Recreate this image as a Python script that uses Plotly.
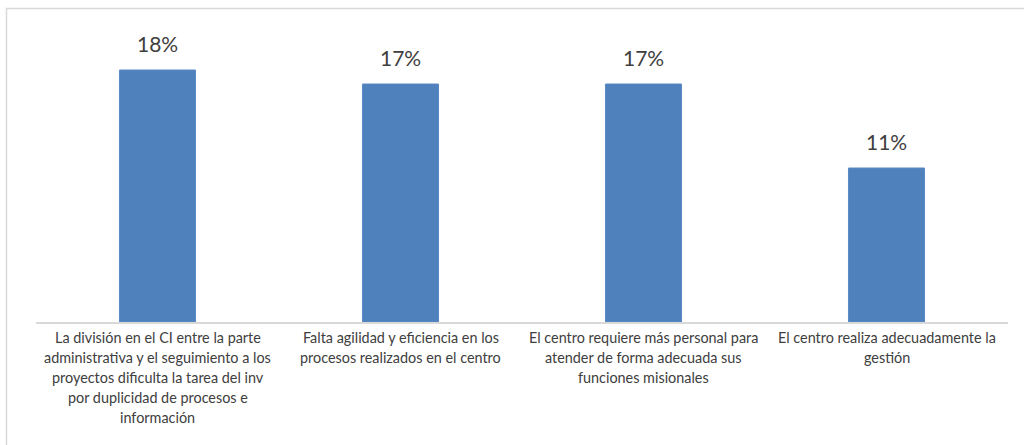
import plotly.graph_objects as go

# Survey responses and their share (%)
categories = [
    ["La división en el CI entre la parte",
     "administrativa y el seguimiento a los",
     "proyectos dificulta la tarea del inv",
     "por duplicidad de procesos e",
     "información"],
    ["Falta agilidad y eficiencia en los",
     "procesos realizados en el centro"],
    ["El centro requiere más personal para",
     "atender de forma adecuada sus",
     "funciones misionales"],
    ["El centro realiza adecuadamente la",
     "gestión"],
]
values = [18, 17, 17, 11]

keys = [" ".join(c) for c in categories]

W, H = 1024, 445
L, R, T, B = 36, 16, 42, 123
pw, ph = W - L - R, H - T - B

fig = go.Figure(go.Bar(
    x=keys, y=values,
    marker=dict(color="#4F81BD", line=dict(color="#5B8AC6", width=1)),
    hoverinfo="skip",
))

annotations = []
for k, v in zip(keys, values):
    annotations.append(dict(
        x=k, y=v, xref="x", yref="y", text=f"{v}%", showarrow=False,
        yanchor="bottom", yshift=12,
        font=dict(family="Lato, Carlito, sans-serif", size=21, color="#404040"),
    ))
for k, lines in zip(keys, categories):
    for i, line in enumerate(lines):
        annotations.append(dict(
            x=k, y=0, xref="x", yref="y", text=line, showarrow=False,
            yanchor="top", yshift=-5 - 20 * i,
            font=dict(family="Lato, Carlito, sans-serif", size=14.4, color="#404040"),
        ))

# Outer frame (top and left edges show within the view)
def px_to_paper_x(px):
    return (px - L) / pw

def px_to_paper_y(py):
    return 1 - (py - T) / ph

fig.add_shape(type="rect", xref="paper", yref="paper",
              x0=px_to_paper_x(6.5), x1=px_to_paper_x(1040),
              y0=px_to_paper_y(460), y1=px_to_paper_y(8.5),
              line=dict(color="#D9D9D9", width=1.5), layer="below")

fig.update_layout(
    width=W, height=H,
    margin=dict(l=L, r=R, t=T, b=B),
    paper_bgcolor="white", plot_bgcolor="white",
    bargap=0.687,
    showlegend=False,
    annotations=annotations,
    xaxis=dict(showticklabels=False, showgrid=False, zeroline=False,
               showline=True, linecolor="#D9D9D9", linewidth=1.5, ticks=""),
    yaxis=dict(range=[0, 20], visible=False, showgrid=False, zeroline=False),
)

fig.write_html("out.html")
